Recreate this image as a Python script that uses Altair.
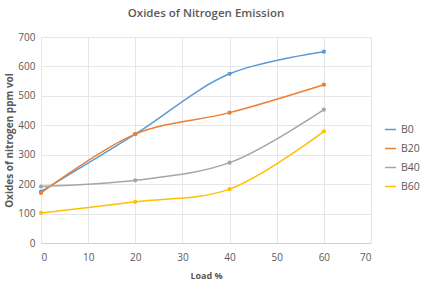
import altair as alt
import pandas as pd

loads = [0, 20, 40, 60]
b0 = [175, 370, 575, 650]
b20 = [170, 370, 443, 538]
b40 = [192, 213, 273, 453]
b60 = [102, 140, 183, 379]
series = ["B0", "B20", "B40", "B60"]
colors = ["#5B9BD5", "#ED7D31", "#A5A5A5", "#FFC000"]

rows = []
for name, vals in zip(series, [b0, b20, b40, b60]):
    for x, v in zip(loads, vals):
        rows.append({"Load": x, "NOx": v, "Series": name})
df = pd.DataFrame(rows)

font = "Open Sans"
color_scale = alt.Scale(domain=series, range=colors)

base = alt.Chart(df).encode(
    x=alt.X("Load:Q", scale=alt.Scale(domain=[0, 70]),
            axis=alt.Axis(values=[0, 10, 20, 30, 40, 50, 60, 70], title="Load %",
                          grid=True, gridColor="#E6E6E6", domainColor="#D0D0D0",
                          ticks=False, labelPadding=9, labelFontSize=10,
                          labelColor="#595959", titleFontSize=9, titleColor="#595959",
                          titlePadding=9, titleFont=font, labelFont=font)),
    y=alt.Y("NOx:Q", scale=alt.Scale(domain=[0, 700]),
            axis=alt.Axis(values=[0, 100, 200, 300, 400, 500, 600, 700],
                          title="Oxides of  nitrogen ppm vol",
                          grid=True, gridColor="#E6E6E6", domain=False, ticks=False,
                          labelPadding=6, labelFontSize=10, labelColor="#595959",
                          titleFontSize=10, titleColor="#595959", titlePadding=3,
                          titleFont=font, labelFont=font)),
    color=alt.Color("Series:N", scale=color_scale, sort=series,
                    legend=alt.Legend(title=None, orient="none", legendX=343, legendY=86,
                                      symbolType="stroke", symbolSize=120,
                                      symbolStrokeWidth=1.5, rowPadding=7,
                                      labelFontSize=10.5, labelColor="#595959",
                                      labelFont=font)),
)

lines = base.mark_line(interpolate="catmull-rom", strokeWidth=1.5)
points = base.mark_point(filled=True, size=18, opacity=1)

chart = (lines + points).properties(
    width=330, height=206,
    title=alt.TitleParams("Oxides of Nitrogen Emission", fontSize=11.5, color="#595959",
                          font=font, fontWeight=600, offset=13),
    padding={"left": 41, "top": 37, "right": 54, "bottom": 55},
    autosize=alt.AutoSizeParams(type="none"),
).configure_view(stroke=None).configure(background="white")

chart.save("out.html", embed_options={"renderer": "svg", "actions": False})
